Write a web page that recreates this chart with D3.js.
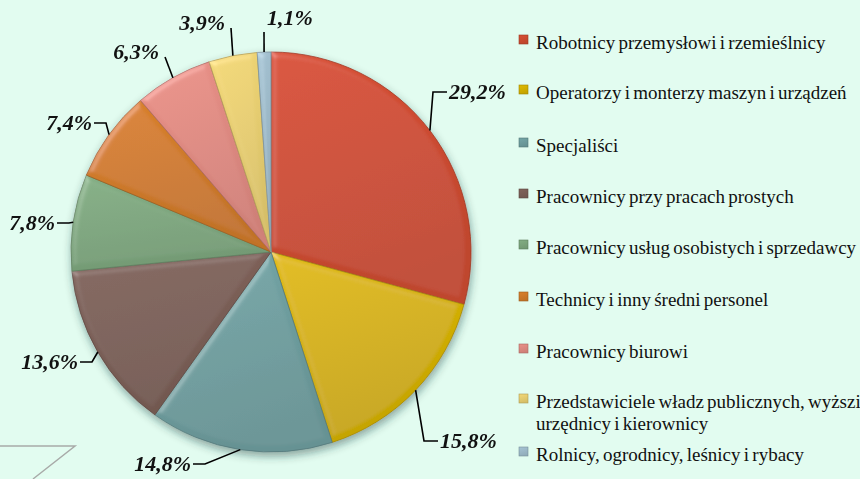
<!DOCTYPE html>
<html>
<head>
<meta charset="utf-8">
<script src="https://cdn.jsdelivr.net/npm/d3@7"></script>
<style>
  html, body { margin: 0; padding: 0; background: #e2fcf0; overflow: hidden; }
  svg { display: block; }
</style>
</head>
<body>
<div class="pie-container"></div>
<script>
// dane
const categories = [
    'Robotnicy przemysłowi i rzemieślnicy',
    'Operatorzy i monterzy maszyn i urządzeń',
    'Specjaliści',
    'Pracownicy przy pracach prostych',
    'Pracownicy usług osobistych i sprzedawcy',
    'Technicy i inny średni personel',
    'Pracownicy biurowi',
    'Przedstawiciele władz publicznych, wyższi urzędnicy i kierownicy',
    'Rolnicy, ogrodnicy, leśnicy i rybacy'
];
const values = [29.2, 15.8, 14.8, 13.6, 7.8, 7.4, 6.3, 3.9, 1.1];
const sliceColors = ['#cd4b30', '#d4b000', '#6e9d9e', '#7a5e56', '#7ca57d', '#cf7a2a', '#de8981', '#e6cd70', '#9dbac9'];
// legend lines (row 8 wraps)
const legendLines = [
    ['Robotnicy przemysłowi i rzemieślnicy'],
    ['Operatorzy i monterzy maszyn i urządzeń'],
    ['Specjaliści'],
    ['Pracownicy przy pracach prostych'],
    ['Pracownicy usług osobistych i sprzedawcy'],
    ['Technicy i inny średni personel'],
    ['Pracownicy biurowi'],
    ['Przedstawiciele władz publicznych, wyższi', 'urzędnicy i kierownicy'],
    ['Rolnicy, ogrodnicy, leśnicy i rybacy']
];

// layout: end of leader line relative to pie centre, + short horizontal elbow flag
const leaderTips = [[176, -160, 1], [167, 189, 1], [-78, 212, 1], [-191, 110, 1], [-214, -29, 1], [-177, -129, 1], [-106, -195, 0], [-40, -224, 0], [-7, -220, 0]];

const SERIF = "'Liberation Serif', 'Times New Roman', Times, serif";
const fmtPct = v => v.toFixed(1).replace('.', ',') + '%';

function setupCanvas(){
    const svg_width = 860, svg_height = 479;
    const cx = 271, cy = 252, radius = 200;

    const svg = d3.select('.pie-container').append('svg')
        .attr('width', svg_width).attr('height', svg_height);

    const defs = svg.append('defs');

    const shadow = defs.append('filter').attr('id', 'shadow')
        .attr('x', '-20%').attr('y', '-20%').attr('width', '140%').attr('height', '140%');
    shadow.append('feDropShadow').attr('dx', 1).attr('dy', 4).attr('stdDeviation', 4)
        .attr('flood-color', '#1a3a3a').attr('flood-opacity', 0.45);

    // delikatny efekt wypukłości
    const bevel = defs.append('filter').attr('id', 'bevel')
        .attr('x', '-5%').attr('y', '-5%').attr('width', '110%').attr('height', '110%');
    bevel.append('feGaussianBlur').attr('in', 'SourceAlpha').attr('stdDeviation', 3).attr('result', 'blur');
    const spec = bevel.append('feSpecularLighting').attr('in', 'blur').attr('surfaceScale', 3)
        .attr('specularConstant', 0.5).attr('specularExponent', 20)
        .attr('lighting-color', '#ffffff').attr('result', 'spec');
    spec.append('feDistantLight').attr('azimuth', 225).attr('elevation', 40);
    bevel.append('feComposite').attr('in', 'spec').attr('in2', 'SourceAlpha').attr('operator', 'in').attr('result', 'specIn');
    bevel.append('feComposite').attr('in', 'SourceGraphic').attr('in2', 'specIn')
        .attr('operator', 'arithmetic').attr('k1', 0).attr('k2', 1).attr('k3', 0.3).attr('k4', 0);

    sliceColors.forEach((c, i) => {
        const g = defs.append('linearGradient').attr('id', 'grad' + i)
            .attr('x1', 0).attr('y1', 0).attr('x2', 0.3).attr('y2', 1);
        g.append('stop').attr('offset', '0%').attr('stop-color', d3.color(c).brighter(0.15));
        g.append('stop').attr('offset', '100%').attr('stop-color', d3.color(c).darker(0.2));
    });

    const pie = d3.pie().sort(null).value(d => d);
    const arcs = pie(values);
    const arc = d3.arc().innerRadius(0).outerRadius(radius);

    const pieG = svg.append('g').attr('transform', `translate(${cx},${cy})`)
        .attr('filter', 'url(#shadow)');
    pieG.selectAll('.slice')
        .data(arcs)
        .enter()
        .append('path')
        .attr('class', 'slice')
        .attr('d', arc)
        .attr('fill', (d, i) => `url(#grad${i})`)
        .attr('stroke', (d, i) => d3.color(sliceColors[i]).darker(0.7))
        .attr('stroke-width', 0.8)
        .attr('filter', 'url(#bevel)');

    // etykiety z liniami
    const labG = svg.append('g').attr('transform', `translate(${cx},${cy})`);
    arcs.forEach((d, i) => {
        const a = (d.startAngle + d.endAngle) / 2;
        const start = [radius * Math.sin(a), -radius * Math.cos(a)];
        const [tx, ty, elbow] = leaderTips[i];
        const right = tx > 0 || i === 8;
        const pts = [start];
        if (elbow) pts.push([tx + (right ? -14 : 12), ty]);
        pts.push([tx, ty]);
        labG.append('path')
            .attr('d', d3.line()(pts))
            .attr('fill', 'none').attr('stroke', '#000').attr('stroke-width', 1.6);
        let lx, ly, anchor;
        if (i === 8) { lx = tx + 3; ly = ty - 7; anchor = 'start'; }
        else if (!elbow) { lx = tx - 6; ly = ty + 2; anchor = 'end'; }
        else { lx = right ? tx + 2 : tx - 2; ly = ty + 7; anchor = right ? 'start' : 'end'; }
        labG.append('text')
            .attr('x', lx).attr('y', ly)
            .attr('text-anchor', anchor)
            .attr('font-family', SERIF).attr('font-weight', 'bold').attr('font-style', 'italic')
            .attr('font-size', 22).attr('fill', '#111')
            .text(fmtPct(values[i]));
    });

    // legenda
    const legY = [43, 93, 146, 197, 248, 300, 352, 402, 455];
    const leg = svg.append('g').attr('class', 'legend');
    legendLines.forEach((lines, i) => {
        const row = leg.append('g').attr('transform', `translate(519,${legY[i]})`);
        row.append('rect').attr('x', 0).attr('y', -8).attr('width', 9).attr('height', 9)
            .attr('fill', `url(#grad${i})`)
            .attr('stroke', d3.color(sliceColors[i]).darker(0.8)).attr('stroke-width', 0.6);
        const t = row.append('text')
            .attr('font-family', SERIF).attr('font-size', 19).attr('fill', '#111')
            .attr('word-spacing', -1.5)
            .attr('x', 17).attr('y', 6);
        lines.forEach((ln, j) => {
            t.append('tspan').attr('x', 17).attr('dy', j === 0 ? 0 : 22).text(ln);
        });
    });

    // ozdobna linia w lewym dolnym rogu
    svg.append('path')
        .attr('d', 'M0,446 L75,446 L33,479')
        .attr('fill', 'none').attr('stroke', '#a8aaa8').attr('stroke-width', 1.5);
}

setupCanvas();
</script>
</body>
</html>
